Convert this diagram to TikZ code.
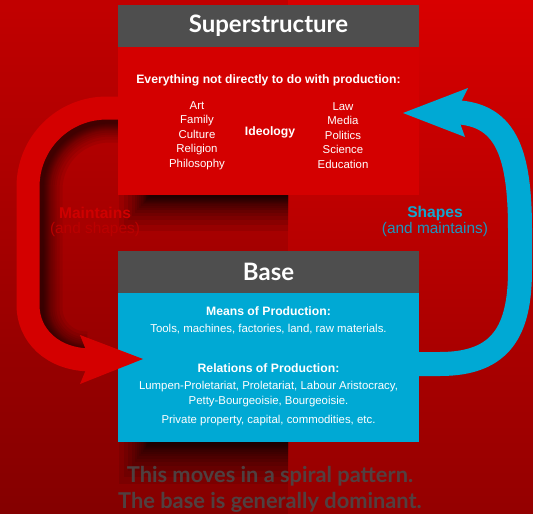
\documentclass[tikz,border=0pt]{standalone}
\usepackage{fontspec}
\setmainfont{Liberation Sans}
\newfontfamily\titlefont{Lato}
\usetikzlibrary{calc}

\definecolor{bgtop}{RGB}{216,0,0}
\definecolor{bgbot}{RGB}{148,0,0}
\definecolor{boxred}{RGB}{212,0,0}
\definecolor{headgrey}{RGB}{78,78,78}
\definecolor{baseblue}{RGB}{0,169,212}
\definecolor{maintred}{RGB}{206,0,0}
\definecolor{maintredlight}{RGB}{186,0,0}
\definecolor{shapeblue}{RGB}{18,166,206}
\definecolor{shapebluelight}{RGB}{28,150,190}
\definecolor{notegrey}{RGB}{76,70,70}

\tikzset{
  panel/.style={rectangle, inner sep=0pt, minimum width=301, draw=none},
  header/.style={panel, fill=headgrey, minimum height=42, text=white,
    font=\titlefont\bfseries\fontsize{24}{28}\selectfont},
  txt/.style={text=white, inner sep=0pt, align=center,
    font=\fontsize{11.4}{14.6}\selectfont},
  btxt/.style={txt, font=\bfseries\fontsize{12.2}{14.6}\selectfont},
  band/.style={line width=23, line cap=butt},
  sidebold/.style={inner sep=0pt, font=\bfseries\fontsize{15.6}{18}\selectfont},
  sidereg/.style={inner sep=0pt, font=\fontsize{15.4}{18}\selectfont},
  note/.style={inner sep=0pt, text=notegrey, text opacity=0.92,
    font=\titlefont\bfseries\fontsize{21.8}{26}\selectfont},
  boxshade/.style={black, opacity=0.09},
  loopshade/.style={black, opacity=0.07},
}

\begin{document}
\begin{tikzpicture}[x=1pt,y=-1pt]
\useasboundingbox (0,0) rectangle (533,514);

% background, the left half a little darker
\shade[top color=bgtop, bottom color=bgbot] (0,0) rectangle (533,514);
\fill[black, opacity=0.1] (0,0) rectangle (288,514);

% soft shadows on the left half, built from stacked translucent layers
\begin{scope}
  \clip (0,0) rectangle (288,514);
  \foreach \d in {1,2,3,4,5,6,7,8,10,12,14,17,20,24,29,35} {
    \fill[boxshade] (150-0.9*\d,60) rectangle (440,196+\d);
    \fill[boxshade] (150-0.9*\d,300) rectangle (440,442+1.2*\d);
  }
\end{scope}
% the loop casts its shadow only into its own inside
\begin{scope}
  \clip (130,108) -- (107,108) .. controls (63,108) and (28,143) .. (28,187)
    -- (28,305) .. controls (28,335) and (52,360) .. (92,360) -- (130,360) -- cycle;
  \foreach \d in {1,2,3,4,5,6,7,8,10,12,14,17,20} {
    \draw[loopshade, line width=23+2*\d, line cap=butt]
      (128,111) -- (110,111) .. controls (66,111) and (31,146) .. (31,190)
      -- (31,308) .. controls (31,338) and (55,363) .. (86,363);
  }
\end{scope}

% connector bands
\coordinate (redstart) at (125,108);
\coordinate (redend) at (92,360);
\coordinate (bluestart) at (410,364);
\coordinate (blueend) at (450,112);
\draw[band, boxred] (redstart) -- (107,108) .. controls (63,108) and (28,143) .. (28,187)
  -- (28,305) .. controls (28,335) and (52,360) .. (redend);
\draw[band, baseblue, line width=24] (bluestart) -- (440,364) .. controls (502,364) and (520,330) .. (520,270)
  -- (520,230) .. controls (520,150) and (505,112) .. (blueend);

% panels
\node[header] (suphead) at (268.5,26) {Superstructure};
\node[panel, fill=boxred, minimum height=148] (supbody) at (268.5,121) {};
\node[header] (basehead) at (268.5,272) {Base};
\node[panel, fill=baseblue, minimum height=149] (basebody) at (268.5,367.5) {};

% arrow heads
\fill[boxred] (80,335) -- (143,359) -- (80,384) -- (90,360) -- cycle;
\fill[baseblue] (468,88) -- (403,113) -- (465,137) -- (456,112) -- cycle;

% superstructure contents
\node[btxt] (everything) at (268.5,80) {Everything not directly to do with production:};
\node[txt] (leftlist) at (197,135.5) {Art\\Family\\Culture\\Religion\\Philosophy};
\node[btxt] (ideology) at (270,132) {Ideology};
\node[txt] (rightlist) at (343,135.5) {Law\\Media\\Politics\\Science\\Education};

% base contents
\node[btxt] (means) at (268.5,311) {Means of Production:};
\node[txt] (tools) at (268.5,329) {Tools, machines, factories, land, raw materials.};
\node[btxt] (relations) at (268.5,368) {Relations of Production:};
\node[txt] (classes) at (268.5,394) {Lumpen-Proletariat, Proletariat, Labour Aristocracy,\\Petty-Bourgeoisie, Bourgeoisie.};
\node[txt] (property) at (268.5,421) {Private property, capital, commodities, etc.};

% side labels
\node[sidebold, text=maintred] (maint) at (95,213) {Maintains};
\node[sidereg, text=maintredlight] (maintsub) at (95,230) {(and shapes)};
\node[sidebold, text=shapeblue] (shapes) at (435,213) {Shapes};
\node[sidereg, text=shapebluelight] (shapessub) at (435,230) {(and maintains)};

% closing remark
\node[note] (spiral) at (270,476) {This moves in a spiral pattern.};
\node[note] (dominant) at (270,502) {The base is generally dominant.};
\end{tikzpicture}
\end{document}
